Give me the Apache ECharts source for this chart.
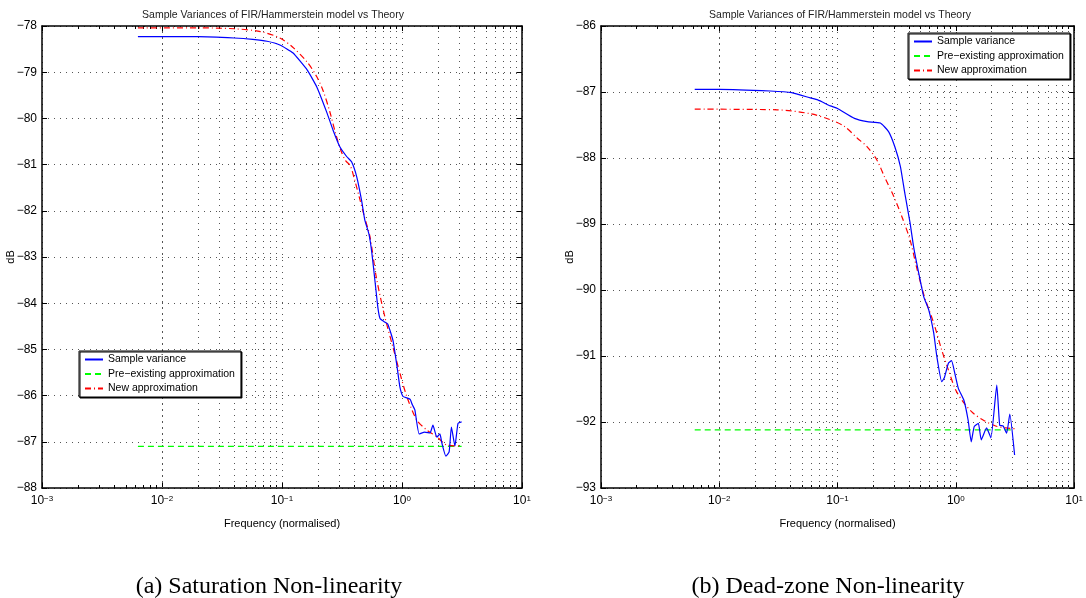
<!DOCTYPE html>
<html>
<head>
<meta charset="utf-8">
<title>Sample Variances of FIR/Hammerstein model vs Theory</title>
<script src="https://cdn.jsdelivr.net/npm/echarts@6/dist/echarts.min.js"></script>
<style>
  html, body { margin: 0; padding: 0; background: #fff; }
  #chart { width: 1086px; height: 598px; }
</style>
</head>
<body>
<div id="chart"></div>
<script>
// names / labels
const seriesNames = ['Sample variance', 'Pre\u2212existing approximation', 'New approximation']
const plotTitle = 'Sample Variances of FIR/Hammerstein model vs Theory'
const captions = ['(a) Saturation Non-linearity', '(b) Dead-zone Non-linearity']

// (a) saturation
const satBlueF = [0.0063, 0.02, 0.04, 0.057, 0.075, 0.096, 0.123, 0.162, 0.195, 0.237, 0.266, 0.304, 0.347, 0.38, 0.42, 0.46, 0.49, 0.53, 0.56, 0.6, 0.63, 0.656, 0.71, 0.76, 0.84, 0.91, 0.96, 1.02, 1.1, 1.17, 1.22, 1.28, 1.39, 1.55, 1.71, 1.81, 1.95, 2.07, 2.15, 2.32, 2.47, 2.58, 2.76, 2.93, 3.14]
const satBlueDb = [-78.23, -78.23, -78.26, -78.29, -78.33, -78.41, -78.58, -78.95, -79.32, -79.88, -80.25, -80.62, -80.83, -80.94, -81.27, -81.77, -82.2, -82.5, -82.9, -83.6, -84.1, -84.33, -84.4, -84.45, -84.8, -85.38, -85.81, -86.02, -86.05, -86.08, -86.2, -86.31, -86.83, -86.79, -86.81, -86.64, -86.9, -86.83, -87.03, -87.31, -87.22, -86.68, -87.09, -86.6, -86.57]
const satRedF = [0.0063, 0.02, 0.04, 0.066, 0.096, 0.123, 0.162, 0.195, 0.22, 0.25, 0.28, 0.31, 0.34, 0.37, 0.4, 0.44, 0.49, 0.54, 0.61, 0.72, 0.84, 0.96, 1.1, 1.33, 1.6, 1.95, 2.37, 3.14]
const satRedDb = [-78.04, -78.04, -78.06, -78.12, -78.26, -78.46, -78.78, -79.1, -79.4, -79.85, -80.33, -80.7, -80.92, -81.02, -81.3, -81.7, -82.16, -82.55, -83.43, -84.3, -84.95, -85.51, -86.03, -86.53, -86.74, -86.89, -87.07, -87.09]
const satGreenF = [0.0063, 3.14]
const satGreenDb = [-87.1, -87.1]

// (b) dead-zone
const dzBlueF = [0.0062, 0.01, 0.027, 0.041, 0.059, 0.068, 0.087, 0.1, 0.139, 0.178, 0.23, 0.27, 0.305, 0.34, 0.37, 0.41, 0.44, 0.485, 0.535, 0.59, 0.65, 0.69, 0.76, 0.8, 0.865, 0.92, 0.98, 1.05, 1.17, 1.27, 1.35, 1.43, 1.55, 1.64, 1.82, 1.98, 2.22, 2.35, 2.51, 2.69, 2.86, 3.14]
const dzBlueDb = [-86.96, -86.96, -86.985, -87.01, -87.09, -87.12, -87.21, -87.25, -87.4, -87.45, -87.47, -87.6, -87.83, -88.13, -88.53, -88.98, -89.35, -89.74, -90.1, -90.3, -90.65, -91.0, -91.39, -91.33, -91.11, -91.07, -91.26, -91.49, -91.67, -91.97, -92.3, -92.07, -92.02, -92.27, -92.09, -92.24, -91.44, -92.05, -92.06, -92.17, -91.88, -92.5]
const dzRedF = [0.0062, 0.031, 0.059, 0.087, 0.114, 0.147, 0.178, 0.215, 0.25, 0.3, 0.35, 0.41, 0.465, 0.54, 0.65, 0.76, 0.865, 1.0, 1.17, 1.39, 1.7, 2.17, 2.65, 3.14]
const dzRedDb = [-87.26, -87.27, -87.33, -87.42, -87.52, -87.7, -87.83, -88.03, -88.29, -88.59, -88.89, -89.24, -89.65, -90.09, -90.5, -90.91, -91.21, -91.52, -91.71, -91.86, -91.97, -92.06, -92.09, -92.1]
const dzGreenF = [0.0062, 3.14]
const dzGreenDb = [-92.12, -92.12]

// axes
const xMin = 0.001
const xMax = 10
const satYRange = [-88, -78]
const dzYRange = [-93, -86]
const decades = [0.001, 0.01, 0.1, 1]
const minorSteps = [2, 3, 4, 5, 6, 7, 8, 9]

const font = "'Liberation Sans', Arial, sans-serif"
const serif = "'Liberation Serif', 'Times New Roman', serif"
const ink = '#000'

function pairs (f, v) {
  return f.map((x, i) => [x, v[i]])
}

const minorGrid = []
decades.forEach(d => minorSteps.forEach(s => minorGrid.push(+(d * s).toPrecision(3))))

const dotted = { color: '#555', type: [1, 5], width: 1 }
const frame = { color: ink, width: 1.5 }
const tick = { inside: true, length: 5, lineStyle: { color: ink } }
const minorTick = { show: true, splitNumber: 9, length: 3, lineStyle: { color: ink } }

function xAxes (grid) {
  const bottom = {
    type: 'log', logBase: 10, gridIndex: grid, min: xMin, max: xMax,
    name: 'Frequency (normalised)', nameLocation: 'middle', nameGap: 30,
    nameTextStyle: { fontFamily: font, fontSize: 11, color: ink },
    axisLine: { lineStyle: frame },
    axisTick: tick,
    minorTick: minorTick,
    splitLine: { show: true, lineStyle: dotted },
    axisLabel: {
      margin: 7,
      formatter: v => '{b|10}{s|' + String(Math.round(Math.log10(v))).replace('-', '\u2212') + '}',
      rich: {
        b: { fontFamily: font, fontSize: 12, color: ink },
        s: { fontFamily: font, fontSize: 8, color: ink, verticalAlign: 'top' }
      }
    }
  }
  const top = {
    type: 'log', logBase: 10, gridIndex: grid, min: xMin, max: xMax, position: 'top',
    axisLine: { lineStyle: frame },
    axisTick: tick,
    minorTick: minorTick,
    axisLabel: { show: false },
    splitLine: { show: false }
  }
  return [bottom, top]
}

function yAxes (grid, range) {
  const left = {
    type: 'value', gridIndex: grid, min: range[0], max: range[1], interval: 1,
    name: 'dB', nameLocation: 'middle', nameGap: 26, nameMoveOverlap: false,
    nameTextStyle: { fontFamily: font, fontSize: 11, color: ink },
    axisLine: { show: true, lineStyle: frame },
    axisTick: Object.assign({ show: true }, tick),
    splitLine: { show: true, lineStyle: dotted },
    axisLabel: {
      margin: 5, fontFamily: font, fontSize: 12, color: ink,
      formatter: v => String(v).replace('-', '\u2212')
    }
  }
  const right = {
    type: 'value', gridIndex: grid, min: range[0], max: range[1], interval: 1, position: 'right',
    axisLine: { show: true, lineStyle: frame },
    axisTick: Object.assign({ show: true }, tick),
    axisLabel: { show: false },
    splitLine: { show: false }
  }
  return [left, right]
}

function plotSeries (grid, blue, green, red) {
  const idx = { xAxisIndex: grid * 2, yAxisIndex: grid * 2 }
  return [
    Object.assign({
      name: seriesNames[0], type: 'line', data: blue, symbol: 'none', smooth: 0.15, z: 4,
      lineStyle: { color: '#0000ff', width: 1.2 }, itemStyle: { color: '#0000ff' }
    }, idx),
    Object.assign({
      name: seriesNames[1], type: 'line', data: green, symbol: 'none', z: 2,
      lineStyle: { color: '#00ff00', width: 1.2, type: [6, 4] }, itemStyle: { color: '#00ff00' },
      markLine: {
        silent: true, symbol: ['none', 'none'], z: 1, animation: false,
        label: { show: false },
        lineStyle: dotted,
        emphasis: { disabled: true },
        data: minorGrid.map(v => ({ xAxis: v }))
      }
    }, idx),
    Object.assign({
      name: seriesNames[2], type: 'line', data: red, symbol: 'none', smooth: 0.3, z: 3,
      lineStyle: { color: '#ff0000', width: 1.2, type: [6, 3, 1, 3] }, itemStyle: { color: '#ff0000' }
    }, idx)
  ]
}

function legendBox (left, top) {
  return {
    data: seriesNames, left: left, top: top, orient: 'vertical',
    backgroundColor: '#fff', borderColor: '#000', borderWidth: 1,
    shadowColor: '#000', shadowOffsetX: 1, shadowOffsetY: 1, shadowBlur: 0,
    padding: [3, 6, 3, 5], itemGap: 3.5, itemWidth: 18, itemHeight: 12,
    itemStyle: { opacity: 0 },
    lineStyle: { opacity: 1 },
    textStyle: { fontFamily: font, fontSize: 10.5, color: ink },
    selectedMode: false
  }
}

const chart = echarts.init(document.getElementById('chart'))
const [satX0, satX1] = xAxes(0)
const [dzX0, dzX1] = xAxes(1)
const [satY0, satY1] = yAxes(0, satYRange)
const [dzY0, dzY1] = yAxes(1, dzYRange)

const titleStyle = { fontFamily: font, fontSize: 10.5, fontWeight: 'normal', color: '#222' }
const captionStyle = { fontFamily: serif, fontSize: 24, fontWeight: 'normal', color: '#000' }

const option = {
  animation: false,
  backgroundColor: '#fff',
  title: [
    { text: plotTitle, left: 268, top: 5, textAlign: 'center', textStyle: titleStyle },
    { text: plotTitle, left: 835, top: 5, textAlign: 'center', textStyle: titleStyle },
    { text: captions[0], left: 264, top: 570, textAlign: 'center', textStyle: captionStyle },
    { text: captions[1], left: 823, top: 570, textAlign: 'center', textStyle: captionStyle }
  ],
  legend: [legendBox(79, 351), legendBox(908, 33)],
  grid: [
    { left: 42, top: 26, width: 480, height: 462, containLabel: false },
    { left: 601, top: 26, width: 479, height: 462, containLabel: false }
  ],
  xAxis: [satX0, satX1, dzX0, dzX1],
  yAxis: [satY0, satY1, dzY0, dzY1],
  series: [].concat(
    plotSeries(0, pairs(satBlueF, satBlueDb), pairs(satGreenF, satGreenDb), pairs(satRedF, satRedDb)),
    plotSeries(1, pairs(dzBlueF, dzBlueDb), pairs(dzGreenF, dzGreenDb), pairs(dzRedF, dzRedDb))
  )
}

chart.setOption(option)
window.addEventListener('resize', () => {
  chart && chart.resize()
})
</script>
</body>
</html>
